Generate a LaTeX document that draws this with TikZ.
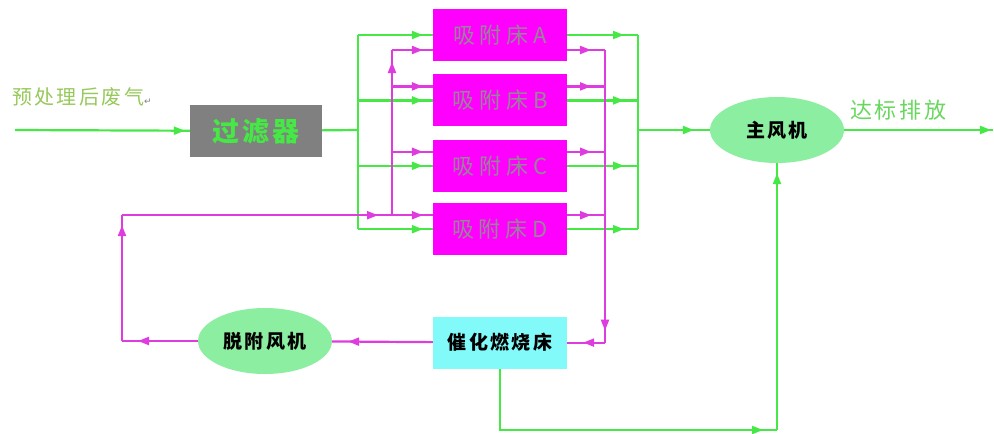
\documentclass[tikz,border=0pt]{standalone}
\usepackage{fontspec}
\setmainfont{Noto Sans CJK SC}[LetterSpace=12]
\newfontfamily\symfont{DejaVu Sans}
\usetikzlibrary{arrows.meta, positioning, shapes.geometric, decorations.markings}
\definecolor{flowGreen}{RGB}{70,232,70}
\definecolor{flowMag}{RGB}{222,60,222}
\definecolor{bedFill}{RGB}{255,0,255}
\definecolor{bedText}{RGB}{150,135,150}
\definecolor{filterFill}{RGB}{128,128,128}
\definecolor{fanFill}{RGB}{140,238,160}
\definecolor{burnFill}{RGB}{130,250,250}
\definecolor{lblIn}{RGB}{150,200,90}
\definecolor{lblOut}{RGB}{105,215,95}

\begin{document}
\begin{tikzpicture}[
    x=1pt, y=-1pt,
    bed/.style={rectangle, fill=bedFill, minimum width=134pt, minimum height=52pt, inner sep=0pt, text=bedText, font=\fontsize{22}{26}\selectfont\addfontfeature{LetterSpace=22}},
    fan/.style={ellipse, fill=fanFill, minimum width=134pt, minimum height=66pt, inner sep=0pt, font=\fontsize{19}{22}\selectfont\bfseries},
    gline/.style={draw=flowGreen, line width=2.2pt},
    mline/.style={draw=flowMag, line width=2.2pt},
    flowtip/.style={postaction={decorate}, decoration={markings, mark=at position #1 with {\arrow{Triangle[length=11pt,width=8pt]}}}},
    flowtip/.default=-10pt,
    lbl/.style={inner sep=0pt, anchor=west}
]
\useasboundingbox (0,0) rectangle (994,434);

% --- Entrada e filtro ---
\node[lbl, text=lblIn, font=\fontsize{20}{24}\selectfont] (preLbl) at (12,97)
    {预处理后废气{\symfont\fontsize{9}{9}\selectfont\color{gray}↵}};
\coordinate (inStart) at (15,130);
\node[rectangle, fill=filterFill, minimum width=132pt, minimum height=52pt, inner sep=0pt,
      text=flowGreen, font=\fontsize{27}{30}\selectfont\bfseries] (filter) at (256,131) {过滤器};

% --- Leitos de adsorção ---
\node[bed] (bedA) at (500,35) {吸附床A};
\node[bed, below=13pt of bedA] (bedB) {吸附床B};
\node[bed, below=13pt of bedB] (bedC) {吸附床C};
\node[bed, below=11pt of bedC] (bedD) {吸附床D};

% --- Ventiladores e leito catalítico ---
\node[fan] (mainFan) at (777,130) {主风机};
\node[lbl, text=lblOut, font=\fontsize{22}{26}\selectfont] (outLbl) at (850,110) {达标排放};
\coordinate (outEnd) at (993,130);
\node[rectangle, fill=burnFill, minimum width=134pt, minimum height=52pt, inner sep=0pt,
      font=\fontsize{19}{22}\selectfont\bfseries, below=61pt of bedD] (burner) {催化燃烧床};
\node[fan] (desFan) at (265,341) {脱附风机};

% --- Barramentos ---
\coordinate (busL) at (358,130);
\coordinate (busR) at (638,130);
\coordinate (magL) at (392,0);
\coordinate (magR) at (605,0);
\coordinate (loopL) at (122,0);
\coordinate (botR) at (777,430);

% pontos de entrada/saída magenta
\coordinate (inA) at ([yshift=-15pt]bedA.west);
\coordinate (outA) at ([yshift=-15pt]bedA.east);
\foreach \b in {B,C,D} {
    \coordinate (in\b) at ([yshift=14pt]bed\b.west);
    \coordinate (out\b) at ([yshift=14pt]bed\b.east);
}

% === Fluxo principal (verde) ===
\draw[gline, flowtip=-5pt] (inStart) -- (filter);
\draw[gline] (filter) -- (busL);
\draw[gline] (busL |- bedA) -- (busL |- bedD);
\foreach \b in {bedA,bedB,bedC,bedD}
    \draw[gline, flowtip] (busL |- \b) -- (\b);
\foreach \b in {bedA,bedB,bedC,bedD}
    \draw[gline, flowtip=-14pt] (\b) -- (busR |- \b);
\draw[gline] (busR |- bedA) -- (busR |- bedD);
\draw[gline, flowtip=-16pt] (busR) -- (mainFan);
\draw[gline, flowtip=-2pt] (mainFan) -- (outEnd);

% Leito catalítico -> ventilador principal
\draw[gline, flowtip=-14pt] (burner.south) |- (botR);
\draw[gline, flowtip=-10pt] (botR) -- (mainFan.south);

% === Dessorção (magenta) ===
\foreach \b in {A,B,C,D}
    \draw[mline, flowtip=-14pt] (out\b) -- (magR |- out\b);
\draw[mline, flowtip=-12pt] (magR |- outA) -- (magR |- burner);
\draw[mline, flowtip=-16pt] (magR |- burner) -- (burner);
\draw[mline, flowtip=-16pt] (burner) -- (desFan);
\draw[mline, flowtip=-16pt] (desFan) -- (loopL |- desFan);
\draw[mline, flowtip=-10pt] (loopL |- desFan) -- (loopL |- inD);
\draw[mline, flowtip=-14pt] (loopL |- inD) -- (magL |- inD);
\draw[mline, flowtip=-12pt] (magL |- inD) -- (magL |- inA);
\foreach \b in {A,B,C,D}
    \draw[mline, flowtip] (magL |- in\b) -- (in\b);

\end{tikzpicture}
\end{document}
